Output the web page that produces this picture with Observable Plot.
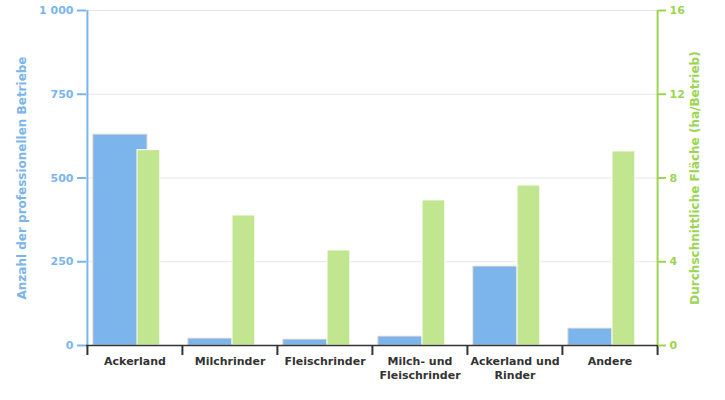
<!DOCTYPE html>
<html><head><meta charset="utf-8">
<script src="https://cdn.jsdelivr.net/npm/d3@7"></script>
<script src="https://cdn.jsdelivr.net/npm/@observablehq/plot@0.6"></script>
<style>
body{margin:0;background:#fff}
svg{font-family:"DejaVu Sans",sans-serif}
</style>
</head><body><div id="chart"></div>
<script>
const categories = ["Ackerland", "Milchrinder", "Fleischrinder", "Milch- und Fleischrinder", "Ackerland und Rinder", "Andere"];
const tickLabels = ["Ackerland", "Milchrinder", "Fleischrinder", "Milch- und\nFleischrinder", "Ackerland und\nRinder", "Andere"];
const betriebe = [629, 20, 17, 26, 235, 50];
const flaeche = [9.33, 6.21, 4.54, 6.93, 7.64, 9.27];
const leftTicks = [0, 250, 500, 750, 1000];
const rightTicks = [0, 4, 8, 12, 16];
const leftTitle = "Anzahl der professionellen Betriebe";
const rightTitle = "Durchschnittliche Fläche (ha/Betrieb)";

const W = 725, H = 400, mL = 86, mR = 68, mT = 10, mB = 55;
const bw = (W - mL - mR) / categories.length;
const ratio = leftTicks[leftTicks.length - 1] / rightTicks[rightTicks.length - 1];
const rows = categories.map((c, i) => ({cat: c, n: betriebe[i], a: flaeche[i] * ratio}));

const blue = "#7cb5ec", green = "#9bd552", greenBar = "#c2e68f", dark = "#333333";

const chart = Plot.plot({
  width: W, height: H,
  marginLeft: mL, marginRight: mR, marginTop: mT, marginBottom: mB,
  style: {fontFamily: "'DejaVu Sans', sans-serif", background: "#fff"},
  x: {domain: categories, padding: 0, axis: null},
  y: {domain: [0, 1000], axis: null},
  marks: [
    Plot.ruleY(leftTicks.slice(1), {stroke: "#e6e6e6", strokeWidth: 1}),
    Plot.barY(rows, {filter: (d, i) => i === 0, x: "cat", y: "n", fill: blue, stroke: "#cccccc", strokeWidth: 1, insetLeft: 6, insetRight: bw - 60}),
    Plot.barY(rows, {filter: (d, i) => i > 0, x: "cat", y: "n", fill: blue, stroke: "#cccccc", strokeWidth: 1, insetLeft: 6, insetRight: bw - 50}),
    Plot.barY(rows, {x: "cat", y: "a", fill: greenBar, stroke: "#ffffff", strokeWidth: 1, insetLeft: 50, insetRight: bw - 73}),
    Plot.ruleX([categories[0]], {dx: -bw / 2, stroke: blue, strokeWidth: 2}),
    Plot.ruleX([categories[categories.length - 1]], {dx: bw / 2, stroke: green, strokeWidth: 2}),
    Plot.ruleY([0], {stroke: dark, strokeWidth: 1.5}),
    Plot.ruleX(categories, {dx: -bw / 2, y1: 0, y2: 0, insetBottom: -10, stroke: dark, strokeWidth: 2}),
    Plot.ruleX([categories[categories.length - 1]], {dx: bw / 2, y1: 0, y2: 0, insetBottom: -10, stroke: dark, strokeWidth: 2}),
    Plot.axisY({anchor: "left", ticks: leftTicks, tickSize: 9, tickPadding: 4, strokeWidth: 2,
      tickFormat: d => d3.format(",")(d).replace(/,/g, " "),
      color: blue, fontWeight: "bold", fontSize: 11, label: null}),
    Plot.axisY({anchor: "right", ticks: rightTicks.map(v => v * ratio), tickSize: 8, tickPadding: 4, strokeWidth: 2,
      tickFormat: d => String(Math.round(d / ratio)),
      color: green, fontWeight: "bold", fontSize: 11, label: null}),
    Plot.axisX({anchor: "bottom", tickSize: 0, tickPadding: 10, lineHeight: 1.27,
      tickFormat: d => tickLabels[categories.indexOf(d)],
      fill: dark, fontWeight: "bold", fontSize: 11, label: null}),
    Plot.text([leftTitle], {frameAnchor: "left", dx: -64, rotate: -90, textAnchor: "middle", fill: blue, fontWeight: "bold", fontSize: 12}),
    Plot.text([rightTitle], {frameAnchor: "right", dx: 38, rotate: -90, textAnchor: "middle", fill: green, fontWeight: "bold", fontSize: 12})
  ]
});
document.getElementById("chart").appendChild(chart);
</script>
</body></html>
